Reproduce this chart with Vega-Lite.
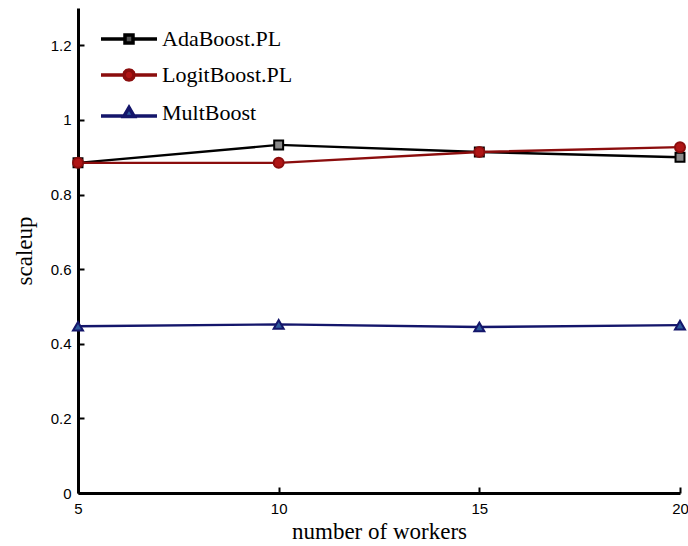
{
  "$schema": "https://vega.github.io/schema/vega-lite/v6.json",
  "width": 602,
  "height": 485,
  "autosize": {"type": "none"},
  "padding": {"left": 78, "top": 8, "right": 8, "bottom": 53},
  "background": "white",
  "config": {
    "view": {"stroke": null},
    "axis": {
      "grid": false,
      "domainColor": "#000000",
      "domainWidth": 3,
      "tickColor": "#000000",
      "tickWidth": 2,
      "tickSize": -6,
      "labelFont": "Liberation Sans",
      "labelFontSize": 15,
      "labelColor": "#000000",
      "titleFont": "Liberation Serif",
      "titleFontSize": 23,
      "titleFontWeight": "normal",
      "titleColor": "#000000"
    }
  },
  "data": {
    "values": [
      {"workers": 5, "scaleup": 0.885, "method": "AdaBoost.PL"},
      {"workers": 10, "scaleup": 0.933, "method": "AdaBoost.PL"},
      {"workers": 15, "scaleup": 0.914, "method": "AdaBoost.PL"},
      {"workers": 20, "scaleup": 0.9, "method": "AdaBoost.PL"},
      {"workers": 5, "scaleup": 0.885, "method": "LogitBoost.PL"},
      {"workers": 10, "scaleup": 0.885, "method": "LogitBoost.PL"},
      {"workers": 15, "scaleup": 0.914, "method": "LogitBoost.PL"},
      {"workers": 20, "scaleup": 0.927, "method": "LogitBoost.PL"},
      {"workers": 5, "scaleup": 0.447, "method": "MultBoost"},
      {"workers": 10, "scaleup": 0.452, "method": "MultBoost"},
      {"workers": 15, "scaleup": 0.445, "method": "MultBoost"},
      {"workers": 20, "scaleup": 0.45, "method": "MultBoost"}
    ]
  },
  "encoding": {
    "x": {
      "field": "workers",
      "type": "quantitative",
      "scale": {"domain": [5, 20], "nice": false, "zero": false},
      "axis": {
        "title": "number of workers",
        "values": [5, 10, 15, 20],
        "labelPadding": 14,
        "titlePadding": 4,
        "labelFlush": false
      }
    },
    "y": {
      "field": "scaleup",
      "type": "quantitative",
      "scale": {"domain": [0, 1.3], "nice": false},
      "axis": {
        "title": "scaleup",
        "values": [0, 0.2, 0.4, 0.6, 0.8, 1, 1.2],
        "labelExpr": "'' + datum.value",
        "labelPadding": 13,
        "titlePadding": 14,
        "labelFlush": false
      }
    }
  },
  "layer": [
    {
      "mark": {"type": "point", "size": 100, "opacity": 0, "filled": false},
      "encoding": {
        "shape": {
          "field": "method",
          "type": "nominal",
          "scale": {
            "domain": ["AdaBoost.PL", "LogitBoost.PL", "MultBoost"],
            "range": [
              "M -5.6 0 L -0.8 0 M 0.8 0 L 5.6 0 M -0.8 -0.8 L 0.8 -0.8 L 0.8 0.8 L -0.8 0.8 Z",
              "M -5.6 0 L -1 0 M 1 0 L 5.6 0 M 1 0 L 0.866 0.5 L 0.5 0.866 L 0 1 L -0.5 0.866 L -0.866 0.5 L -1 0 L -0.866 -0.5 L -0.5 -0.866 L 0 -1 L 0.5 -0.866 L 0.866 -0.5 Z",
              "M -5.6 0.6 L -1.05 0.6 M 1.05 0.6 L 5.6 0.6 M 0 -1.1 L 1.05 0.7 L -1.05 0.7 Z"
            ]
          },
          "legend": {
            "title": null,
            "orient": "none",
            "legendX": 40,
            "legendY": 20,
            "direction": "vertical",
            "symbolSize": 100,
            "symbolStrokeWidth": 3.5,
            "symbolOpacity": 1,
            "labelFont": "Liberation Serif",
            "labelFontSize": 22,
            "labelColor": "#000000",
            "labelOffset": 22,
            "rowPadding": 13,
            "labelLimit": 400
          }
        },
        "stroke": {
          "field": "method",
          "type": "nominal",
          "scale": {"domain": ["AdaBoost.PL", "LogitBoost.PL", "MultBoost"], "range": ["#000000", "#8b0d0d", "#14166b"]}
        },
        "fill": {
          "field": "method",
          "type": "nominal",
          "scale": {"domain": ["AdaBoost.PL", "LogitBoost.PL", "MultBoost"], "range": ["#555555", "#b01515", "#2e5a9c"]}
        }
      }
    },
    {
      "mark": {"type": "line", "strokeWidth": 2.4, "clip": false},
      "encoding": {
        "color": {
          "field": "method",
          "type": "nominal",
          "scale": {"domain": ["AdaBoost.PL", "LogitBoost.PL", "MultBoost"], "range": ["#000000", "#8b0d0d", "#14166b"]},
          "legend": null
        }
      }
    },
    {
      "transform": [{"filter": "datum.method === 'AdaBoost.PL'"}],
      "mark": {"type": "point", "shape": "square", "filled": true, "fill": "#8a8a8a", "stroke": "#000000", "strokeWidth": 2, "size": 80, "opacity": 1}
    },
    {
      "transform": [{"filter": "datum.method === 'LogitBoost.PL'"}],
      "mark": {"type": "point", "shape": "circle", "filled": true, "fill": "#b01515", "stroke": "#8b0d0d", "strokeWidth": 2, "size": 100, "opacity": 1}
    },
    {
      "transform": [{"filter": "datum.method === 'MultBoost'"}],
      "mark": {"type": "point", "shape": "triangle-up", "filled": true, "fill": "#2e5a9c", "stroke": "#14166b", "strokeWidth": 2, "size": 100, "opacity": 1}
    }
  ]
}
